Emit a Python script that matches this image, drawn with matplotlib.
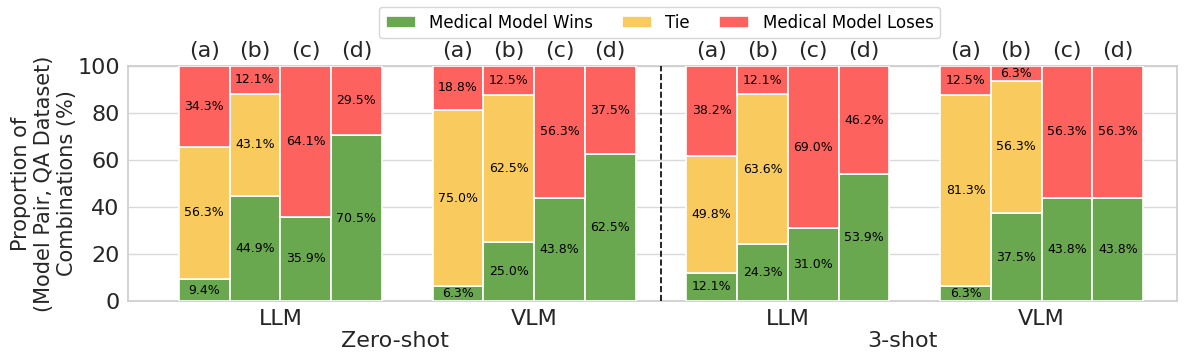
import matplotlib
matplotlib.use('Agg')
import matplotlib.pyplot as plt
import numpy as np

groups = ['LLM', 'VLM', 'LLM', 'VLM']
settings = ['Zero-shot', '3-shot']
sub_labels = ['(a)', '(b)', '(c)', '(d)']

wins = [[9.4, 44.9, 35.9, 70.5],
        [6.3, 25.0, 43.8, 62.5],
        [12.1, 24.3, 31.0, 53.9],
        [6.3, 37.5, 43.8, 43.8]]
ties = [[56.3, 43.1, 0, 0],
        [75.0, 62.5, 0, 0],
        [49.8, 63.6, 0, 0],
        [81.3, 56.3, 0, 0]]
loses = [[34.3, 12.1, 64.1, 29.5],
         [18.8, 12.5, 56.3, 37.5],
         [38.2, 12.1, 69.0, 46.2],
         [12.5, 6.3, 56.3, 56.3]]

c_win = '#6aa84f'
c_tie = '#f9cb5e'
c_lose = '#fe625e'

fig = plt.figure(figsize=(11.97, 3.53), dpi=100)
ax = fig.add_axes([0.107, 0.147, 0.876, 0.666])

x = []
for g in range(4):
    for i in range(4):
        x.append(g * 5 + i)
x = np.array(x)
w = np.array(wins).ravel()
t = np.array(ties).ravel()
l = np.array(loses).ravel()

b1 = ax.bar(x, w, width=1.0, color=c_win, edgecolor='white', linewidth=1.2, label='Medical Model Wins', zorder=3)
b2 = ax.bar(x, t, width=1.0, bottom=w, color=c_tie, edgecolor='white', linewidth=1.2, label='Tie', zorder=3)
b3 = ax.bar(x, l, width=1.0, bottom=w + t, color=c_lose, edgecolor='white', linewidth=1.2, label='Medical Model Loses', zorder=3)

for xi, wi, ti, li in zip(x, w, t, l):
    if wi > 0:
        ax.text(xi, wi / 2, '%.1f%%' % wi, ha='center', va='center', fontsize=9, zorder=4)
    if ti > 0:
        ax.text(xi, wi + ti / 2, '%.1f%%' % ti, ha='center', va='center', fontsize=9, zorder=4)
    if li > 0:
        ax.text(xi, wi + ti + li / 2, '%.1f%%' % li, ha='center', va='center', fontsize=9, zorder=4)

for g in range(4):
    for i in range(4):
        ax.text(g * 5 + i, 106.5, sub_labels[i], ha='center', va='center', fontsize=16, color='#262626')

ax.axvline(9, color='black', linestyle='--', linewidth=1.2, zorder=4)

ax.set_xlim(-1.5, 19.16)
ax.set_ylim(0, 100)
ax.set_xticks([1.5, 6.5, 11.5, 16.5])
ax.set_xticklabels(groups, fontsize=16, color='#262626')
ax.set_yticks([0, 20, 40, 60, 80, 100])
ax.tick_params(axis='y', labelsize=16, colors='#262626', length=0, pad=6)
ax.tick_params(axis='x', length=0, pad=6)
ax.yaxis.grid(True, color='#d9d9d9', linewidth=1, zorder=0)
ax.set_axisbelow(True)
for s in ax.spines.values():
    s.set_color('#cccccc')
    s.set_linewidth(1.2)

ax.set_ylabel('Proportion of\n(Model Pair, QA Dataset)\nCombinations (%)', fontsize=15, color='#262626', labelpad=0)

ax.text(3.75, -0.17, settings[0], transform=ax.get_xaxis_transform(), ha='center', va='center', fontsize=16, color='#262626')
ax.text(13.75, -0.17, settings[1], transform=ax.get_xaxis_transform(), ha='center', va='center', fontsize=16, color='#262626')

fig.legend(handles=[b1, b2, b3], loc='upper center', bbox_to_anchor=(0.551, 0.98), ncol=3,
           fontsize=12, frameon=True, edgecolor='#cccccc', handlelength=1.8, handletextpad=0.8,
           columnspacing=1.75, borderpad=0.4, borderaxespad=0)

fig.savefig('out.png', dpi=100)
